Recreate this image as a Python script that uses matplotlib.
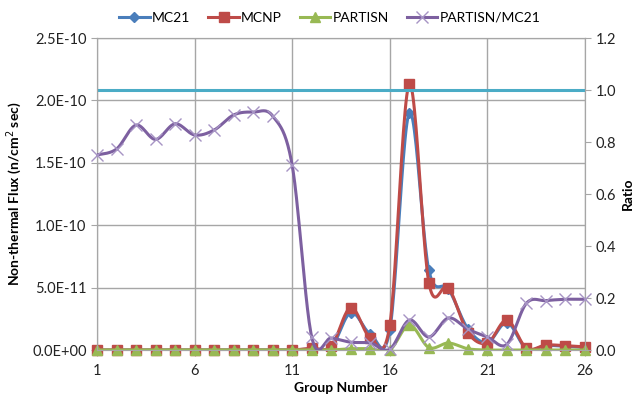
import numpy as np
import matplotlib
matplotlib.use("Agg")
import matplotlib.pyplot as plt
from matplotlib.ticker import FuncFormatter, FixedLocator
from matplotlib.lines import Line2D

groups = list(range(1, 27))
mc21 = [0, 0, 0, 0, 0, 0, 0, 0, 0, 0, 0, 1.0e-12, 2.0e-12, 3.0e-11, 1.3e-11, 1.6e-11,
        1.9e-10, 6.4e-11, 4.9e-11, 1.7e-11, 6.0e-12, 2.2e-11, 1.0e-12, 3.5e-12, 3.0e-12, 2.0e-12]
mcnp = [0, 0, 0, 0, 0, 0, 0, 0, 0, 0, 0, 1.5e-12, 3.0e-12, 3.4e-11, 1.0e-11, 2.0e-11,
        2.13e-10, 5.4e-11, 5.0e-11, 1.4e-11, 5.6e-12, 2.4e-11, 1.5e-12, 4.0e-12, 3.5e-12, 2.5e-12]
partisn = [0, 0, 0, 0, 0, 0, 0, 0, 0, 0, 0, 0, 0, 1.0e-12, 1.0e-12, 0,
           2.0e-11, 2.0e-12, 5.6e-12, 1.0e-12, 0, 0, 0, 0, 0, 0]
ratio = [0.75, 0.773, 0.865, 0.81, 0.87, 0.827, 0.846, 0.904, 0.915, 0.90, 0.71, 0.05,
         0.046, 0.03, 0.027, 0.003, 0.115, 0.05, 0.123, 0.08, 0.05, 0.022, 0.18, 0.19, 0.195, 0.195]
ref_ratio = 1.0

x_ticks = [1, 6, 11, 16, 21, 26]
left_ticks = [0, 5e-11, 1e-10, 1.5e-10, 2e-10, 2.5e-10]
right_ticks = [0.0, 0.2, 0.4, 0.6, 0.8, 1.0, 1.2]


def smooth(x, y, n=24):
    x = np.asarray(x, float)
    y = np.asarray(y, float)
    px = np.concatenate([[x[0]], x, [x[-1]]])
    py = np.concatenate([[y[0]], y, [y[-1]]])
    xs, ys = [], []
    t = np.linspace(0, 1, n)
    for i in range(1, len(px) - 2):
        p0 = np.array([px[i], py[i]])
        p3 = np.array([px[i + 1], py[i + 1]])
        p1 = p0 + (np.array([px[i + 1], py[i + 1]]) - np.array([px[i - 1], py[i - 1]])) / 6
        p2 = p3 - (np.array([px[i + 2], py[i + 2]]) - np.array([px[i], py[i]])) / 6
        b = ((1 - t) ** 3)[:, None] * p0 + (3 * (1 - t) ** 2 * t)[:, None] * p1 + \
            (3 * (1 - t) * t ** 2)[:, None] * p2 + (t ** 3)[:, None] * p3
        xs.append(b[:, 0])
        ys.append(b[:, 1])
    return np.concatenate(xs), np.concatenate(ys)


plt.rcParams['font.family'] = ['Lato', 'DejaVu Sans']

fig = plt.figure(figsize=(6.44, 3.96), dpi=100)
ax = fig.add_axes([97 / 644, 1 - 350 / 396, (585 - 97) / 644, (350 - 38) / 396])
ax2 = ax.twinx()

c_blue = '#4A7EBB'
c_red = '#BE4B48'
c_green = '#98B954'
c_purple = '#7D60A0'
c_cyan = '#4BACC6'
grid_c = '#A6A6A6'

sx, sy = smooth(groups, mc21)
ax.plot(sx, sy, color=c_blue, lw=2.2, zorder=3)
ax.plot(groups, mc21, ls='none', marker='D', ms=5.5, color=c_blue, zorder=3, clip_on=False)
sx, sy = smooth(groups, mcnp)
ax.plot(sx, sy, color=c_red, lw=2.2, zorder=4)
ax.plot(groups, mcnp, ls='none', marker='s', ms=7.5, color=c_red, zorder=4, clip_on=False)
sx, sy = smooth(groups, partisn)
ax.plot(sx, sy, color=c_green, lw=2.2, zorder=5)
ax.plot(groups, partisn, ls='none', marker='^', ms=7, color=c_green, zorder=5, clip_on=False)

ax2.axhline(ref_ratio, color=c_cyan, lw=2.2, zorder=2)
sx, sy = smooth(groups, ratio)
ax2.plot(sx, sy, color=c_purple, lw=2.2, zorder=6)
ax2.plot(groups, ratio, ls='none', marker='x', ms=8, mew=1.0, color='#A794C4', zorder=6, clip_on=False)

ax.set_xlim(1, 26)
ax.set_ylim(0, 2.5e-10)
ax2.set_ylim(0, 1.2)
ax.xaxis.set_major_locator(FixedLocator(x_ticks))
ax.yaxis.set_major_locator(FixedLocator(left_ticks))
ax2.yaxis.set_major_locator(FixedLocator(right_ticks))


def sci(v, pos):
    if v == 0:
        return '0.0E+00'
    m, e = f"{v:.1E}".split('E')
    return f"{m}E{int(e):+03d}"


ax.yaxis.set_major_formatter(FuncFormatter(sci))
ax2.yaxis.set_major_formatter(FuncFormatter(lambda v, p: f"{v:.1f}"))

ax.grid(True, color=grid_c, lw=1.0, zorder=0)
ax.set_axisbelow(True)
for a in (ax, ax2):
    for s in a.spines.values():
        s.set_color(grid_c)
    a.tick_params(colors='#222222', labelsize=10.5, length=4, color=grid_c)
ax.tick_params(axis='x', pad=6)

ax.set_xlabel('Group Number', fontsize=10, fontweight='bold')
ax.xaxis.label.set_va('center')
ax.xaxis.set_label_coords(0.5, -0.122)
ax.set_ylabel('Non-thermal Flux (n/cm$^2$ sec)', fontsize=10, fontweight='bold', labelpad=6)
ax2.set_ylabel('Ratio', fontsize=10, fontweight='bold', labelpad=4)

handles = [
    Line2D([], [], color=c_blue, lw=2.2, marker='D', ms=5.5),
    Line2D([], [], color=c_red, lw=2.2, marker='s', ms=7.5),
    Line2D([], [], color=c_green, lw=2.2, marker='^', ms=7),
    Line2D([], [], color=c_purple, lw=2.2, marker='x', ms=8, mec='#A794C4'),
]
fig.legend(handles, ['MC21', 'MCNP', 'PARTISN', 'PARTISN/MC21'], loc='center',
           bbox_to_anchor=(0.512, 0.955), ncol=4, frameon=False, fontsize=10,
           handlelength=2.2, handletextpad=0.15, columnspacing=1.3)

fig.savefig('out.png', dpi=100)
